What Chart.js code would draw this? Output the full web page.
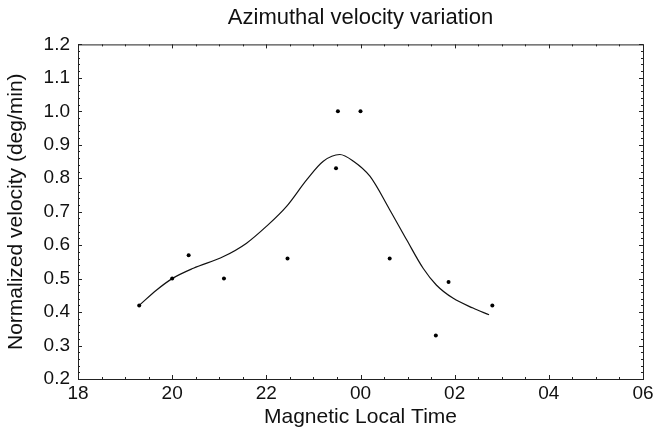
<!DOCTYPE html>
<html>
<head>
<meta charset="utf-8">
<script src="https://cdn.jsdelivr.net/npm/chart.js@4"></script>
<style>
  html, body { margin: 0; padding: 0; background: #fff; }
  #wrap { width: 657px; height: 430px; }
</style>
</head>
<body>
<div id="wrap"><canvas id="c"></canvas></div>
<script>
// measured points (MLT in hours, 24+ means after midnight)
var pointX = [19.3, 20.0, 20.35, 21.1, 22.45, 23.48, 23.52, 24.0, 24.62, 25.6, 25.87, 26.8]
var pointY = [0.42, 0.50, 0.57, 0.50, 0.56, 0.83, 1.0, 1.0, 0.56, 0.33, 0.49, 0.42]

// fitted curve
var curveX = [19.3, 19.67, 20.0, 20.45, 21.09, 21.58, 22.0, 22.43, 22.86, 23.21, 23.56, 23.85, 24.2, 24.62, 24.98, 25.33, 25.61, 25.97, 26.39, 26.73]
var curveY = [0.42, 0.466, 0.50, 0.531, 0.566, 0.606, 0.656, 0.716, 0.796, 0.851, 0.871, 0.851, 0.806, 0.706, 0.616, 0.531, 0.481, 0.441, 0.412, 0.392]

var xTicks = [18, 20, 22, 24, 26, 28, 30]
var yTicks = [0.2, 0.3, 0.4, 0.5, 0.6, 0.7, 0.8, 0.9, 1.0, 1.1, 1.2]

var fontFam = '"Liberation Sans", Arial, Helvetica, sans-serif'

function toXY(xs, ys) {
  var out = []
  for (let i = 0; i < xs.length; i++) out.push({x: xs[i], y: ys[i]})
  return out
}

// frame + inward ticks on all four sides
var frame = {
  id: 'frame',
  afterDraw: function(chart) {
    var ctx = chart.ctx, a = chart.chartArea
    var xs = chart.scales.x, ys = chart.scales.y
    ctx.save()
    ctx.strokeStyle = '#222'
    ctx.lineWidth = 1
    ctx.strokeRect(a.left + 0.5, a.top + 0.5, a.right - a.left, a.bottom - a.top)
    ctx.beginPath()
    for (let v = 18; v <= 30.001; v += 0.5) {
      var px = Math.round(xs.getPixelForValue(v)) + 0.5
      var len = (Math.abs(v - Math.round(v / 2) * 2) < 0.01) ? 4 : 2
      ctx.moveTo(px, a.bottom); ctx.lineTo(px, a.bottom - len)
      ctx.moveTo(px, a.top); ctx.lineTo(px, a.top + len)
    }
    for (let k = 0; k <= 50; k++) {
      var v2 = 0.2 + k * 0.02
      var py = Math.round(ys.getPixelForValue(v2)) + 0.5
      var l2 = (k % 5 == 0) ? 4 : 2
      ctx.moveTo(a.left, py); ctx.lineTo(a.left + l2, py)
      ctx.moveTo(a.right, py); ctx.lineTo(a.right - l2, py)
    }
    ctx.stroke()
    ctx.restore()
  }
}

const myChart = new Chart(document.getElementById('c'), {
  type: 'scatter',
  data: {
    datasets: [
      {
        label: 'data',
        data: toXY(pointX, pointY),
        pointRadius: 2,
        pointBackgroundColor: '#000',
        pointBorderWidth: 0
      },
      {
        label: 'fit',
        data: toXY(curveX, curveY),
        showLine: true,
        pointRadius: 0,
        borderColor: '#111',
        borderWidth: 1.2,
        cubicInterpolationMode: 'monotone',
        fill: false
      }
    ]
  },
  options: {
    responsive: true,
    maintainAspectRatio: false,
    animation: false,
    layout: { padding: { left: 4, right: 14, top: 0, bottom: 0 } },
    plugins: {
      legend: { display: false },
      tooltip: { enabled: false },
      title: {
        display: true,
        fullSize: false,
        text: 'Azimuthal velocity variation',
        color: '#111',
        font: { family: fontFam, size: 22, weight: 'normal' },
        padding: { top: 5, bottom: 13 }
      }
    },
    scales: {
      x: {
        type: 'linear',
        min: 18, max: 30,
        afterBuildTicks: function(s) { s.ticks = xTicks.map(v => ({value: v})) },
        afterFit: function(s) { s.height = 51 },
        ticks: {
          color: '#111',
          font: { family: fontFam, size: 19 },
          padding: 3,
          maxRotation: 0,
          callback: function(v) { return String(v % 24).padStart(2, '0') }
        },
        grid: { display: false, drawTicks: false },
        border: { display: false },
        title: {
          display: true,
          text: 'Magnetic Local Time',
          color: '#111',
          font: { family: fontFam, size: 21 },
          padding: { top: 0, bottom: 0 }
        }
      },
      y: {
        min: 0.2, max: 1.2,
        afterBuildTicks: function(s) { s.ticks = yTicks.map(v => ({value: v})) },
        afterFit: function(s) { s.width = 74 },
        ticks: {
          color: '#111',
          font: { family: fontFam, size: 19 },
          padding: 8,
          callback: function(v) { return v.toFixed(1) }
        },
        grid: { display: false, drawTicks: false },
        border: { display: false },
        title: {
          display: true,
          text: 'Normalized velocity (deg/min)',
          color: '#111',
          font: { family: fontFam, size: 21 },
          padding: { top: 0, bottom: 2 }
        }
      }
    }
  },
  plugins: [frame]
});
</script>
</body>
</html>
